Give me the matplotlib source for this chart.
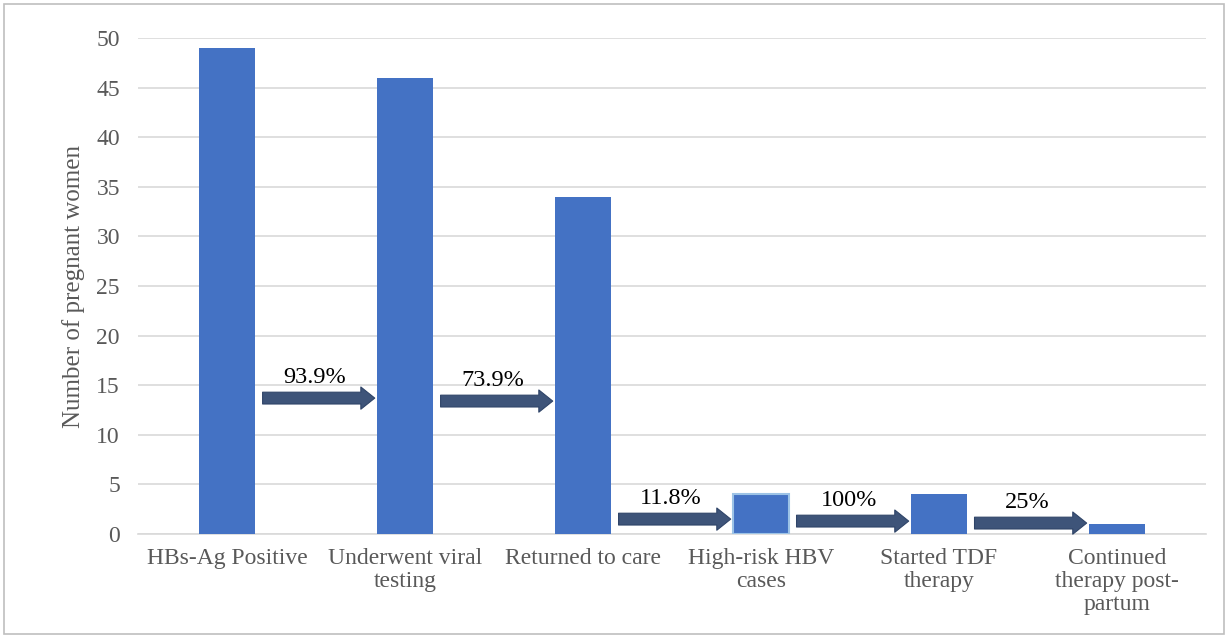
import matplotlib
matplotlib.use("Agg")
import matplotlib.pyplot as plt
from matplotlib.patches import Rectangle

# data
stages = ["HBs-Ag Positive", "Underwent viral\ntesting", "Returned to care",
          "High-risk HBV\ncases", "Started TDF\ntherapy", "Continued\ntherapy post-\npartum"]
counts = [49, 46, 34, 4, 4, 1]
pct_labels = ["93.9%", "73.9%", "11.8%", "100%", "25%"]
arrow_y = [13.7, 13.4, 1.5, 1.3, 1.1]

plt.rcParams["font.family"] = ["Liberation Serif", "DejaVu Serif"]

fig = plt.figure(figsize=(12.28, 6.37), dpi=100)
ax = fig.add_axes([0.1124, 0.1617, 0.8696, 0.7786])

bar_color = "#4472C4"
bars = ax.bar(range(len(counts)), counts, width=0.315, color=bar_color, zorder=3)
# the fourth bar has a light outline in the original
bars[3].set_edgecolor("#9DC3E6")
bars[3].set_linewidth(1.5)

ax.set_xlim(-0.5, len(counts) - 0.5)
ax.set_ylim(0, 50)
ax.set_yticks(range(0, 51, 5))
ax.set_xticks(range(len(counts)))
ax.set_xticklabels(stages, fontsize=17, color="#595959", linespacing=1.12)
ax.tick_params(axis="y", labelsize=17, labelcolor="#595959", length=0, pad=13)
ax.tick_params(axis="x", length=0, pad=10)
ax.grid(axis="y", color="#D9D9D9", linewidth=1.2, zorder=0)
for s in ["top", "right", "left"]:
    ax.spines[s].set_visible(False)
ax.spines["bottom"].set_color("#D9D9D9")
ax.spines["bottom"].set_linewidth(1.2)
ax.set_ylabel("Number of pregnant women", fontsize=18, color="#595959", labelpad=8)

# conversion arrows between stages
for i, (lab, y) in enumerate(zip(pct_labels, arrow_y)):
    x0 = i + 0.2
    x1 = i + 0.83
    ax.annotate("", xy=(x1, y), xytext=(x0, y),
                arrowprops=dict(arrowstyle="simple,head_length=10,head_width=16,tail_width=8.5",
                                mutation_scale=1, fc="#3E5479", ec="#2F4468", lw=0.8,
                                shrinkA=0, shrinkB=0), zorder=4)
    ax.text((x0 + x1) / 2 - 0.02, y + 1.0, lab, fontsize=17.5, color="black",
            ha="center", va="bottom", zorder=5)

# light border round the figure
fig.patches.append(Rectangle((0.003, 0.004), 0.994, 0.99, transform=fig.transFigure,
                             fill=False, ec="#BFBFBF", lw=1.2))

fig.savefig("out.png", dpi=100)
